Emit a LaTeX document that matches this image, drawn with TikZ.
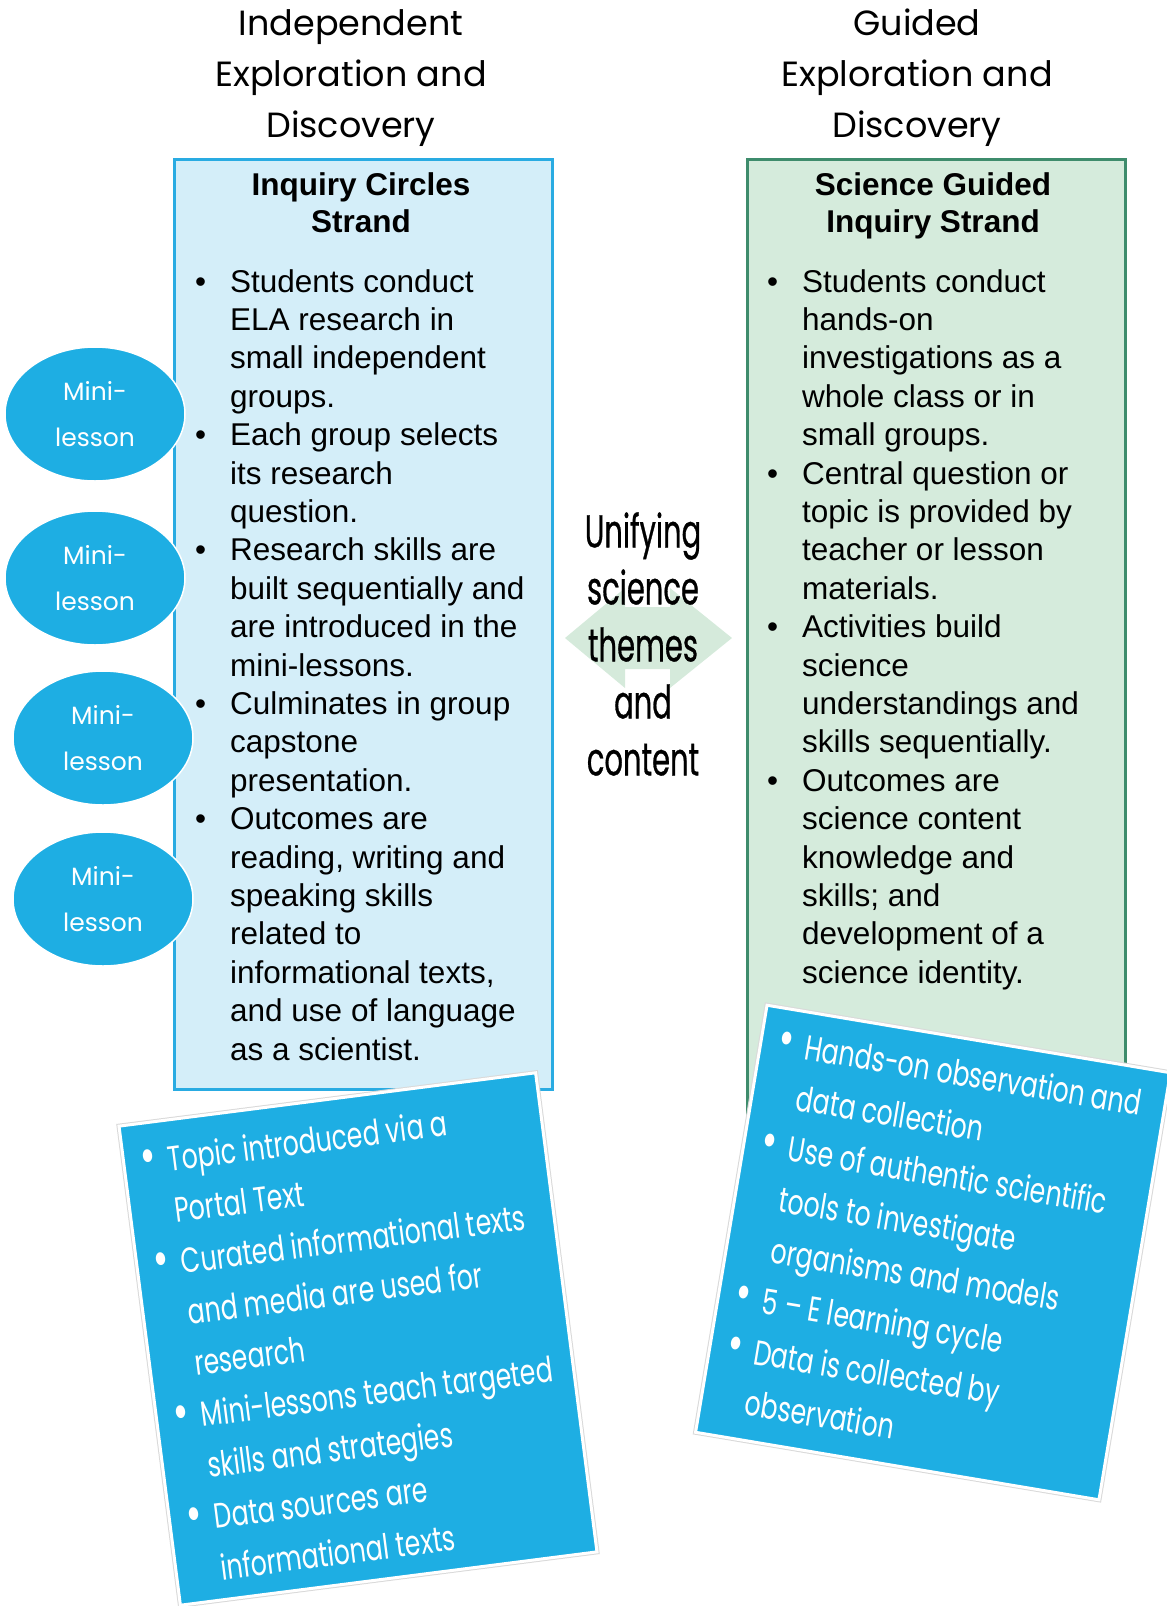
\documentclass[tikz,border=0pt]{standalone}
\usepackage{fontspec}
\setmainfont{Liberation Sans}
\newfontfamily\headfont{Poppins}
\newfontfamily\condfont[FakeStretch=0.72]{Poppins}
\newfontfamily\narrowfont[FakeStretch=0.63,FakeBold=0.6]{Poppins}
\usepackage{tikz}
\usetikzlibrary{shapes.geometric}
\usetikzlibrary{positioning}

\definecolor{cardblue}{RGB}{30,174,227}
\definecolor{icfill}{RGB}{212,238,249}
\definecolor{icline}{RGB}{41,171,226}
\definecolor{sgfill}{RGB}{213,235,220}
\definecolor{sgline}{RGB}{62,140,108}
\definecolor{arrowfill}{RGB}{213,234,219}

\newcommand{\strandbullet}{\llap{•\hspace{24pt}}}
\newcommand{\cardbullet}{\llap{\scalebox{1.5}{•}\hspace{12pt}}}

\begin{document}
\begin{tikzpicture}[x=1pt, y=-1pt,
        header/.style={font=\headfont\fontsize{35}{51}\selectfont, align=center, inner sep=0pt},
        strand/.style={rectangle, line width=3pt, minimum width=378pt},
        stitle/.style={font=\fontsize{31.5}{37}\selectfont\bfseries, align=center, inner sep=0pt},
        points/.style={font=\fontsize{31.5}{38.4}\selectfont, align=left, anchor=north west, inner sep=0pt},
        mini/.style={ellipse, fill=cardblue, draw=white, line width=1.5pt, minimum width=180pt, minimum height=134pt, inner sep=0pt, text=white, align=center, font=\headfont\fontsize{25}{46}\selectfont},
        card/.style={rectangle, fill=cardblue, draw=white, line width=3pt, preaction={draw=black!15, line width=5pt}},
        cardtext/.style={text=white, align=left, anchor=north west, inner xsep=46pt, inner ysep=26pt, font=\condfont\fontsize{35}{51.5}\selectfont}
      ]
        \useasboundingbox (0,0) rectangle (1167,1606);

        \node[header]  (ichead)  at (351,78)      {Independent\\Exploration and\\Discovery};
        \node[header]  (sghead)  at (917,78)      {Guided\\Exploration and\\Discovery};

        \node[strand, draw=icline, fill=icfill, minimum height=930pt]  (icbox)  at (363,624)      {};
        \node[strand, draw=sgline, fill=sgfill, minimum height=981pt]  (sgbox)  at (936.5,649.5)  {};

        \node[stitle]  (ictitle) at (361,203)     {Inquiry Circles\\Strand};
        \node[stitle]  (sgtitle) at (933,206)     {Science Guided\\Inquiry Strand};

        \node[points]  (iclist)  at (230,269)     {\strandbullet Students conduct\\ ELA research in\\ small independent\\ groups.\\
            \strandbullet Each group selects\\ its research\\ question.\\
            \strandbullet Research skills are\\ built sequentially and\\ are introduced in the\\ mini-lessons.\\
            \strandbullet Culminates in group\\ capstone\\ presentation.\\
            \strandbullet Outcomes are\\ reading, writing and\\ speaking skills\\ related to\\ informational texts,\\ and use of language\\ as a scientist.};
        \node[points]  (sglist)  at (802,269)     {\strandbullet Students conduct\\ hands-on\\ investigations as a\\ whole class or in\\ small groups.\\
            \strandbullet Central question or\\ topic is provided by\\ teacher or lesson\\ materials.\\
            \strandbullet Activities build\\ science\\ understandings and\\ skills sequentially.\\
            \strandbullet Outcomes are\\ science content\\ knowledge and\\ skills; and\\ development of a\\ science identity.};

        \node[mini]    (mini1)   at (95,414)      {Mini-\\lesson};
        \node[mini]    (mini2)   at (95,578)      {Mini-\\lesson};
        \node[mini]    (mini3)   at (103,738)     {Mini-\\lesson};
        \node[mini]    (mini4)   at (103,899)     {Mini-\\lesson};

        \fill[arrowfill] (565,638) -- (625,588) -- (625,607) -- (670,607) -- (670,588) -- (732,638)
            -- (670,688) -- (670,669) -- (625,669) -- (625,688) -- cycle;
        \node[font=\narrowfont\fontsize{46}{57}\selectfont, align=center]  (theme)  at (643,644)  {Unifying\\science\\themes\\and\\content};

        \node[card, rotate=7.3, minimum width=420pt, minimum height=483pt]   (iccard)  at (358,1339)    {};
        \node[cardtext, rotate=7.3]   (icnotes)  at (iccard.north west)  {\cardbullet Topic introduced via a\\ Portal Text\\
            \cardbullet Curated informational texts\\ and media are used for\\ research\\
            \cardbullet Mini-lessons teach targeted\\ skills and strategies\\
            \cardbullet Data sources are\\ informational texts};

        \node[card, rotate=-9.5, minimum width=409pt, minimum height=433pt]  (sgcard)  at (933,1252.5)  {};
        \node[cardtext, rotate=-9.5, inner ysep=22pt]  (sgnotes)  at (sgcard.north west)  {\cardbullet Hands-on observation and\\ data collection\\
            \cardbullet Use of authentic scientific\\ tools to investigate\\ organisms and models\\
            \cardbullet 5 – E learning cycle\\
            \cardbullet Data is collected by\\ observation};
      \end{tikzpicture}
\end{document}
